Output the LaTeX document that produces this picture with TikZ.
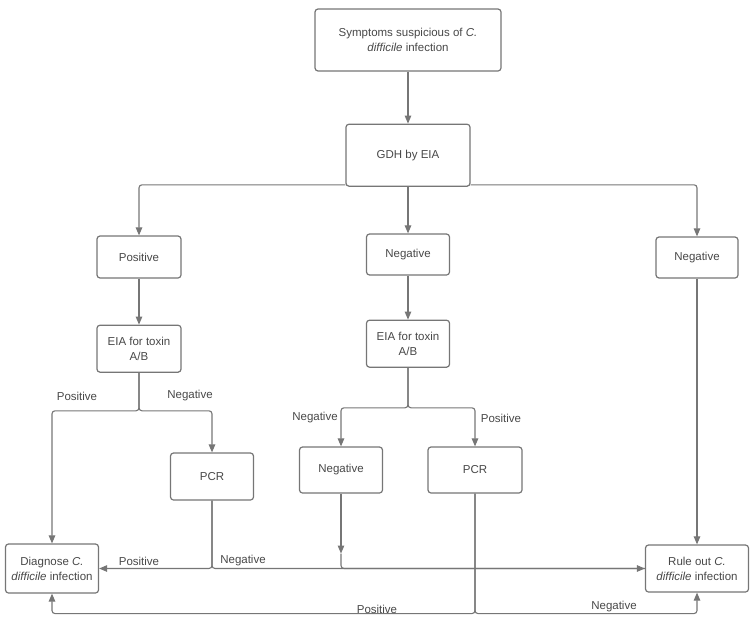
\documentclass[tikz,border=0pt]{standalone}
\usepackage{fontspec}
\setmainfont{Liberation Sans}
\usepackage{tikz}
\usetikzlibrary{arrows.meta, positioning, calc}
\definecolor{linegray}{RGB}{118,118,118}
\definecolor{textgray}{RGB}{72,72,72}
\tikzset{
  stepbox/.style={draw=linegray, rounded corners=3pt, line width=1.2pt, fill=white,
      inner sep=0pt, align=center, text=textgray, font=\fontsize{11.5}{15}\selectfont},
  myarrow/.style={-{Triangle[length=8pt,width=6.5pt]}, line width=1.1pt, linegray, rounded corners=3pt},
  myline/.style={line width=1.1pt, linegray, rounded corners=3pt},
  mylbl/.style={text=textgray, inner sep=0pt, font=\fontsize{11.5}{14}\selectfont},
}

\begin{document}
\begin{tikzpicture}[x=1pt, y=-1pt]
      \useasboundingbox (0,0) rectangle (755,621);
      % === top of the chart ===
      \node[stepbox, minimum width=186pt, minimum height=62pt] (symptoms) at (408,40)
          {Symptoms suspicious of \emph{C.}\\\emph{difficile} infection};
      \node[stepbox, minimum width=124pt, minimum height=62pt, below=52pt of symptoms] (gdh) {GDH by EIA};

      % === three GDH results ===
      \node[stepbox, minimum width=84pt, minimum height=42pt] (pos1) at (139,257) {Positive};
      \node[stepbox, minimum width=83pt, minimum height=41pt] (neg1) at (408,254.5) {Negative};
      \node[stepbox, minimum width=82pt, minimum height=41pt] (neg2) at (697,257.5) {Negative};

      \node[stepbox, minimum width=84pt, minimum height=47pt, below=46pt of pos1] (eia1) {EIA for toxin\\A/B};
      \node[stepbox, minimum width=83pt, minimum height=47pt, below=44pt of neg1] (eia2) {EIA for toxin\\A/B};

      % === second tests ===
      \node[stepbox, minimum width=83pt, minimum height=47pt] (pcr1) at (212,476.5) {PCR};
      \node[stepbox, minimum width=83pt, minimum height=46pt] (neg3) at (341,470) {Negative};
      \node[stepbox, minimum width=94pt, minimum height=46pt] (pcr2) at (475,470) {PCR};

      % === outcomes ===
      \node[stepbox, minimum width=93pt, minimum height=49pt] (diag) at (52,568.5)
          {Diagnose \emph{C.}\\\emph{difficile} infection};
      \node[stepbox, minimum width=103pt, minimum height=47pt] (ruleout) at (697,568.5)
          {Rule out \emph{C.}\\\emph{difficile} infection};

      % branch points
      \coordinate (split1) at ([yshift=-38pt]eia1.south);
      \coordinate (split2) at ([yshift=-40pt]eia2.south);
      \coordinate (split3) at ([yshift=-120pt]pcr2.south);
      \coordinate (neg3in) at ([yshift=15pt]neg3 |- ruleout.west);

      % Arrows
      \draw[myarrow] (symptoms) -- (gdh);
      \draw[myarrow] ([yshift=2pt]gdh.south west) -| (pos1.north);
      \draw[myarrow] (gdh) -- (neg1);
      \draw[myarrow] ([yshift=2pt]gdh.south east) -| (neg2.north);
      \draw[myarrow] (pos1) -- (eia1);
      \draw[myarrow] (neg1) -- (eia2);
      \draw[myarrow] (neg2) -- (ruleout);

      \draw[myarrow] (eia1.south) -- (split1) -| (diag.north);
      \draw[myarrow] (eia1.south) -- (split1) -| (pcr1.north);
      \draw[myarrow] (eia2.south) -- (split2) -| (neg3.north);
      \draw[myarrow] (eia2.south) -- (split2) -| (pcr2.north);

      \draw[myarrow] (pcr1.south) |- (diag.east);
      \draw[myarrow] (pcr1.south) |- (ruleout.west);
      \draw[myarrow] (neg3.south) -- (neg3in);
      \draw[myline] (neg3in) |- (ruleout.west);

      \draw[myarrow] (pcr2.south) -- (split3) -| (diag.south);
      \draw[myarrow] (pcr2.south) -- (split3) -| (ruleout.south);

      % Labels
      \node[mylbl] (lblpos1) at (77,396) {Positive};
      \node[mylbl] (lblneg1) at (190,396) {Negative};
      \node[mylbl] (lblneg2) at (315,418) {Negative};
      \node[mylbl] (lblpos2) at (501,418) {Positive};
      \node[mylbl] (lblpos3) at (139,561) {Positive};
      \node[mylbl] (lblneg3) at (243,561) {Negative};
      \node[mylbl] (lblpos4) at (377,609) {Positive};
      \node[mylbl] (lblneg4) at (614,607) {Negative};
\end{tikzpicture}
\end{document}
